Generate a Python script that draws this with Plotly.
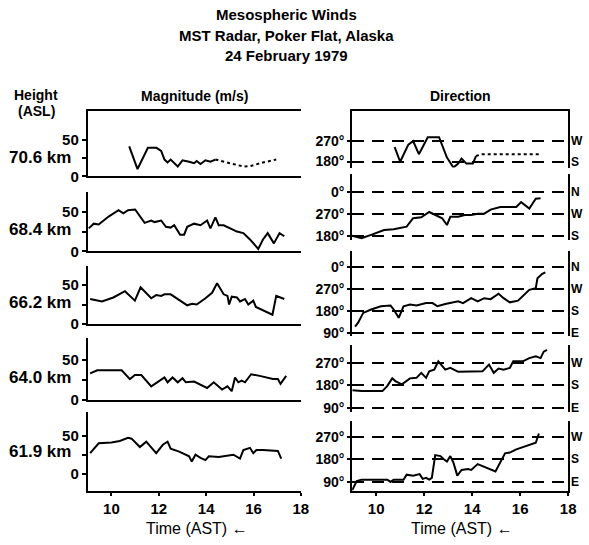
import plotly.graph_objects as go

W, H = 589, 545

# ---------------- data ----------------
# Magnitude (m/s)
t_706 = [10.75, 11.1, 11.54, 11.9, 12.1, 12.24, 12.37, 12.5, 12.8, 13.0, 13.28, 13.49, 13.6, 13.76, 13.97, 14.18, 14.39]
m_706 = [41, 10, 39, 39, 35, 23, 19, 23, 13.5, 22, 20, 18, 21, 17, 22, 20, 23]
t_706_dot = [14.39, 15.0, 15.57, 15.85, 16.4, 16.96]
m_706_dot = [23, 18, 13.5, 14, 19, 23]

t_684 = [9.04, 9.25, 9.46, 9.88, 10.3, 10.5, 10.7, 11.0, 11.4, 11.68, 11.82, 12.1, 12.3, 12.5, 12.65, 12.9, 13.07, 13.2, 13.49, 13.76, 14.04, 14.18, 14.39, 14.53, 14.74, 15.0, 15.3, 15.57, 15.85, 16.2, 16.4, 16.6, 16.86, 17.1, 17.3]
m_684 = [29, 35, 34, 44, 52, 48, 52, 53, 36, 39, 37, 39, 31, 30, 33, 21, 21, 31, 35, 33, 39, 29, 43, 33, 33, 29, 25, 23, 15, 3, 15, 23, 10, 23, 19]

t_662 = [9.1, 9.6, 10.08, 10.57, 10.99, 11.23, 11.68, 11.89, 12.1, 12.24, 12.5, 12.8, 13.2, 13.4, 13.6, 13.97, 14.25, 14.46, 14.74, 14.9, 14.97, 15.08, 15.3, 15.43, 15.64, 15.78, 15.99, 16.1, 16.8, 16.96, 17.3]
m_662 = [32, 29, 34, 42, 30, 47, 33, 37, 36, 38, 38, 32, 24, 26, 25, 33, 40, 52, 38, 36, 25, 35, 34, 29, 32, 25, 30, 22, 12, 36, 32]

t_640 = [9.1, 9.4, 10.43, 10.78, 10.99, 11.26, 11.68, 11.96, 12.24, 12.37, 12.58, 12.8, 13.0, 13.14, 13.49, 14.04, 14.32, 14.67, 14.9, 15.08, 15.22, 15.36, 15.5, 15.64, 15.9, 16.26, 16.82, 17.03, 17.14, 17.38]
m_640 = [33, 37, 37, 26, 31, 31, 17, 22, 28, 22, 28, 22, 27, 22, 23, 15, 22, 13, 17, 11, 28, 22, 24, 22, 32, 30, 26, 26, 20, 30]

t_619 = [9.1, 9.46, 10.0, 10.35, 10.7, 10.85, 11.2, 11.47, 11.89, 12.17, 12.37, 12.5, 12.86, 13.14, 13.28, 13.39, 13.55, 13.76, 13.97, 14.11, 14.53, 15.15, 15.43, 15.57, 15.85, 15.99, 16.12, 16.4, 17.03, 17.17]
m_619 = [27, 40, 41, 43, 47, 46, 35, 42, 27, 38, 42, 33, 29, 25, 23, 16, 25, 21, 18, 23, 22, 25, 20, 31, 34, 27, 31, 31, 30, 20]

# Direction (degrees; 0 deg drawn as 360 at top)
t_d706 = [10.77, 11.0, 11.34, 11.54, 11.78, 12.15, 12.35, 12.62, 12.95, 13.22, 13.42, 13.56, 13.76, 14.03, 14.16]
d_d706 = [243, 179, 254, 269, 212, 286, 286, 286, 197, 154, 171, 193, 171, 171, 204]
t_d706_dot = [14.16, 14.4, 16.8]
d_d706_dot = [204, 212, 212]

t_d684 = [9.0, 9.39, 9.79, 10.33, 10.73, 11.27, 11.54, 11.88, 12.21, 12.48, 12.75, 12.95, 13.09, 13.42, 13.69, 13.96, 14.23, 14.5, 14.77, 15.17, 15.57, 15.84, 16.04, 16.38, 16.65, 16.85]
d_d684 = [179, 169, 183, 203, 206, 217, 252, 256, 278, 265, 252, 224, 258, 258, 265, 265, 271, 271, 288, 299, 299, 299, 319, 292, 333, 335]

t_d662 = [9.12, 9.25, 9.46, 9.79, 10.2, 10.6, 10.73, 10.94, 11.14, 11.41, 11.68, 12.08, 12.35, 12.55, 12.88, 13.15, 13.42, 13.62, 13.96, 14.23, 14.5, 14.77, 15.1, 15.31, 15.57, 15.91, 16.11, 16.38, 16.65, 16.72, 16.92, 17.05]
d_d662 = [117, 133, 173, 187, 200, 203, 187, 153, 200, 207, 203, 213, 213, 200, 209, 213, 220, 213, 233, 220, 233, 229, 251, 233, 216, 223, 240, 267, 274, 314, 332, 338]

t_d640 = [9.01, 9.39, 10.26, 10.46, 10.67, 10.8, 11.07, 11.41, 11.68, 11.88, 12.08, 12.21, 12.42, 12.59, 12.88, 13.09, 13.42, 13.83, 14.43, 14.7, 14.9, 15.1, 15.31, 15.57, 15.71, 16.11, 16.38, 16.65, 16.85, 16.98, 17.12]
d_d640 = [160, 157, 157, 177, 208, 197, 184, 208, 210, 230, 210, 236, 243, 276, 243, 250, 234, 236, 236, 263, 230, 247, 243, 250, 276, 276, 289, 296, 289, 315, 322]

t_d619 = [9.0, 9.19, 9.39, 10.47, 10.6, 10.73, 11.14, 11.27, 11.54, 11.81, 11.94, 12.08, 12.21, 12.32, 12.46, 12.68, 12.82, 12.95, 13.09, 13.22, 13.38, 13.56, 13.83, 13.96, 14.23, 14.97, 15.37, 15.57, 15.84, 16.11, 16.65, 16.78]
d_d619 = [57, 93, 99, 99, 90, 99, 99, 119, 115, 121, 102, 106, 99, 106, 197, 193, 180, 171, 193, 167, 115, 138, 141, 138, 161, 132, 204, 207, 220, 228, 246, 283]

heights = ["70.6 km", "68.4 km", "66.2 km", "64.0 km", "61.9 km"]
hour_ticks = [10, 12, 14, 16, 18]
mag_ticks = [0, 25, 50]
mag_ticktext = ["0", "", "50"]

dir_ticks = [[180, 270], [180, 270, 360], [90, 180, 270, 360], [90, 180, 270], [90, 180, 270]]
dir_names = {90: "90°", 180: "180°", 270: "270°", 360: "0°"}
compass = {90: "E", 180: "S", 270: "W", 360: "N"}

# ---------------- layout geometry (pixels) ----------------
def px(x):
    return x / W

def py(y):
    return 1 - y / H

left_x = [89, 305]
right_x = [357, 576]
left_panels = [(113, 179, [0, 89]), (195, 255, [0, 75]), (270, 329, [0, 74]), (343, 406, [0, 77]), (418, 498, [-22, 81])]
right_panels = [(113, 170, [154, 399]), (177, 244, [160, 434]), (255, 341, [79, 424]), (350, 418, [74, 342]), (427, 498, [55, 334])]
label_y = [160, 233, 307, 383, 458]

fig = go.Figure()
line = dict(color="black", width=2)

mag_series = [(t_706, m_706), (t_684, m_684), (t_662, m_662), (t_640, m_640), (t_619, m_619)]
dir_series = [(t_d706, d_d706), (t_d684, d_d684), (t_d662, d_d662), (t_d640, d_d640), (t_d619, d_d619)]

for i, (t, m) in enumerate(mag_series):
    fig.add_trace(go.Scatter(x=t, y=m, mode="lines", line=line, xaxis=f"x{i+1}", yaxis=f"y{i+1}", showlegend=False))
fig.add_trace(go.Scatter(x=t_706_dot, y=m_706_dot, mode="lines", line=dict(color="black", width=2, dash="dot"), xaxis="x1", yaxis="y1", showlegend=False))

for i, (t, d) in enumerate(dir_series):
    fig.add_trace(go.Scatter(x=t, y=d, mode="lines", line=line, xaxis=f"x{i+6}", yaxis=f"y{i+6}", showlegend=False))
fig.add_trace(go.Scatter(x=t_d706_dot, y=d_d706_dot, mode="lines", line=dict(color="black", width=2, dash="dot"), xaxis="x6", yaxis="y6", showlegend=False))

font_main = "Liberation Sans, Arial, sans-serif"
tickfont = dict(family=font_main, size=15, color="black", weight="bold")

layout = dict(
    width=W, height=H, margin=dict(l=0, r=0, t=0, b=0),
    paper_bgcolor="white", plot_bgcolor="white",
    font=dict(family=font_main, color="black"),
    showlegend=False,
)

for i, (top, bot, rng) in enumerate(left_panels):
    n = i + 1
    layout[f"xaxis{n}"] = dict(
        domain=[px(left_x[0]), px(left_x[1])], range=[9, 18], anchor=f"y{n}",
        showline=True, linecolor="black", linewidth=2, mirror=(i == 0),
        tickvals=hour_ticks, showticklabels=(i == 4), ticks="outside" if i == 4 else "",
        ticklen=3, tickwidth=2, tickcolor="black", tickfont=tickfont,
        showgrid=False, zeroline=False, fixedrange=True,
    )
    layout[f"yaxis{n}"] = dict(
        domain=[py(bot), py(top)], range=rng, anchor=f"x{n}",
        showline=True, linecolor="black", linewidth=2,
        tickvals=mag_ticks, ticktext=mag_ticktext, ticks="outside", ticklen=4,
        tickwidth=2, tickcolor="black", tickfont=tickfont,
        showgrid=False, zeroline=False, fixedrange=True,
    )

annotations = []
for i, (top, bot, rng) in enumerate(right_panels):
    n = i + 6
    layout[f"xaxis{n}"] = dict(
        domain=[px(right_x[0]), px(right_x[1])], range=[9, 18], anchor=f"y{n}",
        showline=(i == 0 or i == 4), linecolor="black", linewidth=2,
        side="top" if i == 0 else "bottom",
        tickvals=hour_ticks, showticklabels=(i == 4), ticks="outside" if i == 4 else "",
        ticklen=3, tickwidth=2, tickcolor="black", tickfont=tickfont,
        showgrid=False, zeroline=False, fixedrange=True,
    )
    tv = dir_ticks[i]
    layout[f"yaxis{n}"] = dict(
        domain=[py(bot), py(top)], range=rng, anchor=f"x{n}",
        showline=True, linecolor="black", linewidth=2, mirror=True,
        tickvals=tv, ticktext=[dir_names[v] for v in tv], ticks="outside", ticklen=3,
        tickwidth=2, tickcolor="black", tickfont=dict(family=font_main, size=14, color="black", weight="bold"),
        showgrid=True, gridcolor="black", gridwidth=1.5, griddash="12px,8px",
        zeroline=False, fixedrange=True,
    )
    for v in tv:
        annotations.append(dict(
            x=px(577), xref="paper", y=v, yref=f"y{n}", xanchor="left", yanchor="middle",
            text=f"<b>{compass[v]}</b>", showarrow=False,
            font=dict(family=font_main, size=12, color="black"),
        ))

for lbl, yy in zip(heights, label_y):
    annotations.append(dict(
        x=px(74), y=py(yy), xref="paper", yref="paper", xanchor="right", yanchor="middle",
        text=f"<b>{lbl}</b>", showarrow=False, font=dict(family=font_main, size=17, color="black"),
    ))

title_lines = [("Mesospheric Winds", 15), ("MST Radar, Poker Flat, Alaska", 36), ("24 February 1979", 56)]
for txt, yy in title_lines:
    annotations.append(dict(
        x=px(290), y=py(yy), xref="paper", yref="paper", xanchor="center", yanchor="middle",
        text=f"<b>{txt}</b>", showarrow=False, font=dict(family=font_main, size=15, color="black"),
    ))

header = [("Height", 37, 96), ("(ASL)", 37, 113), ("Magnitude (m/s)", 197, 97), ("Direction", 467, 97)]
for txt, xx, yy in header:
    annotations.append(dict(
        x=px(xx), y=py(yy), xref="paper", yref="paper", xanchor="center", yanchor="middle",
        text=f"<b>{txt}</b>", showarrow=False, font=dict(family=font_main, size=14, color="black"),
    ))

for xx in (200, 468):
    annotations.append(dict(
        x=px(xx), y=py(536), xref="paper", yref="paper", xanchor="center", yanchor="middle",
        text="Time (AST) \u2190", showarrow=False, font=dict(family=font_main, size=16, color="black"),
    ))

layout["annotations"] = annotations
fig.update_layout(**layout)
fig.write_html("out.html")
